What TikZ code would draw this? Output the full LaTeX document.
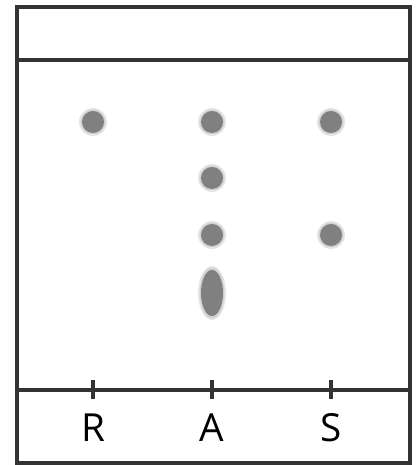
\documentclass[tikz,border=0pt]{standalone}
\usepackage{fontspec}
\setsansfont{Open Sans}
\usepackage{tikz}
\usetikzlibrary{positioning,calc}

\tikzset{
    plate/.style={line width=1pt, draw=black!80},
    spot/.style={circle, fill=black!50, inner sep=0pt, minimum size=0.22cm},
    halo/.style={circle, fill=black!50, opacity=0.2, inner sep=0pt, minimum size=#1},
    lane/.style={font=\sffamily\fontsize{11}{13}\selectfont, inner sep=0pt}
}

\begin{document}
\begin{tikzpicture}[x=0.01cm, y=-0.01cm]
    \useasboundingbox (0,0) rectangle (416,465);
    % plate, solvent front and base line
    \draw[plate] (17,7) rectangle (410,463);
    \draw[plate] (17,60) -- (410,60);
    \draw[plate] (17,390) -- (410,390);
    % lanes
    \foreach \name/\x in {R/93, A/212, S/331} {
        \coordinate (t\name) at (\x,390);
        \draw[plate] ($(t\name)+(0,-10)$) -- ($(t\name)+(0,9)$);
        \node[lane] (l\name) at (\x,428) {\name};
    }
    % spots
    \foreach \x/\y [count=\i] in {93/122, 212/122, 331/122, 212/178, 212/235, 331/235} {
        \node[halo=0.28cm] at (\x,\y) {};
        \node[halo=0.25cm] at (\x,\y) {};
        \node[spot] (s\i) at (\x,\y) {};
    }
    \fill[black!50, opacity=0.2] (212,293) ellipse (14 and 27);
    \fill[black!50, opacity=0.2] (212,293) ellipse (12.5 and 25.5);
    \fill[black!50] (212,293) ellipse (11 and 23);
\end{tikzpicture}
\end{document}
